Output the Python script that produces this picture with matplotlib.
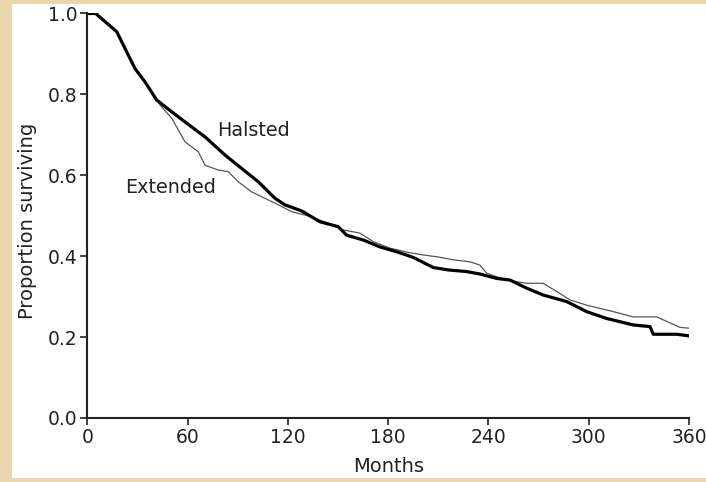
import numpy as np
import matplotlib.pyplot as plt
from matplotlib.patches import Rectangle

plt.rcParams['font.family'] = ['DejaVu Sans']

# survival estimates (months, proportion)
halsted_t = [0, 5, 10.6, 17.6, 22.5, 28.5, 34.5, 41.5, 50.5, 58.4, 70.4, 82.4,
             92.3, 102.3, 112.3, 118.2, 128.2, 139.2, 150.1, 155.1, 165.1, 175,
             185, 195, 207, 216, 226.9, 234.9, 244.9, 252.9, 262.8, 272.7,
             286.7, 298.7, 310.7, 326.6, 336.6, 338.6, 352.6, 360]
halsted_s = [1.0, 1.0, 0.98, 0.955, 0.914, 0.864, 0.831, 0.786, 0.757, 0.732,
             0.695, 0.65, 0.617, 0.584, 0.543, 0.527, 0.512, 0.485, 0.473,
             0.452, 0.44, 0.423, 0.411, 0.397, 0.372, 0.366, 0.362, 0.356,
             0.345, 0.341, 0.321, 0.304, 0.288, 0.263, 0.246, 0.23, 0.226,
             0.207, 0.207, 0.203]

extended_t = [0, 5, 10.6, 17.6, 22.5, 28.5, 34.5, 43.5, 50.5, 58.4, 66.4, 70.4,
              78.4, 84.3, 90.3, 98.3, 106.3, 114.3, 122.2, 132, 142, 153.1,
              163.1, 171.1, 181, 191, 201, 210, 219, 229, 234.9, 238.9, 250.8,
              262.8, 272.7, 282.7, 288.7, 298.7, 314.6, 326.6, 340.6, 354.6, 360]
extended_s = [1.0, 1.0, 0.98, 0.955, 0.914, 0.864, 0.831, 0.774, 0.741, 0.683,
              0.658, 0.625, 0.613, 0.609, 0.584, 0.559, 0.543, 0.527, 0.51,
              0.5, 0.485, 0.465, 0.457, 0.436, 0.42, 0.41, 0.403, 0.398, 0.391,
              0.386, 0.378, 0.358, 0.341, 0.333, 0.333, 0.308, 0.292, 0.279,
              0.263, 0.25, 0.25, 0.224, 0.222]

x_ticks = [0, 60, 120, 180, 240, 300, 360]
y_ticks = [0.0, 0.2, 0.4, 0.6, 0.8, 1.0]

fig = plt.figure(figsize=(7.06, 4.82), dpi=100, facecolor='#e9d6ad')
fig.patches.append(Rectangle((12 / 706, 4 / 482), 1, 474 / 482,
                             transform=fig.transFigure, facecolor='white',
                             edgecolor='none', zorder=-10))
ax = fig.add_axes([0.1237, 0.1328, 0.8523, 0.8392])
ax.set_facecolor('none')

ax.plot(extended_t, extended_s, color='#555555', lw=0.9)
ax.plot(halsted_t, halsted_s, color='black', lw=2.3)

ax.text(99.7, 0.71, 'Halsted', ha='center', va='center', fontsize=13.8, color='#222222')
ax.text(49.5, 0.571, 'Extended', ha='center', va='center', fontsize=13.8, color='#222222')

ax.set_xlim(0, 360)
ax.set_ylim(0, 1.0)
ax.set_xticks(x_ticks)
ax.set_xticklabels([str(v) for v in x_ticks])
ax.set_yticks(y_ticks)
ax.set_yticklabels(['%.1f' % v for v in y_ticks])
ax.tick_params(labelsize=13.5, length=5, width=1.2, direction='out', pad=2, colors='#222222')
for side in ['top', 'right']:
    ax.spines[side].set_visible(False)
for side in ['left', 'bottom']:
    ax.spines[side].set_linewidth(1.5)
    ax.spines[side].set_color('#222222')
ax.set_xlabel('Months', fontsize=14, color='#222222')
ax.set_ylabel('Proportion surviving', fontsize=14, color='#222222')
ax.xaxis.set_label_coords(0.5, -0.096)
ax.yaxis.set_label_coords(-0.0836, 0.487)

plt.savefig('out.png', dpi=100, facecolor=fig.get_facecolor())
